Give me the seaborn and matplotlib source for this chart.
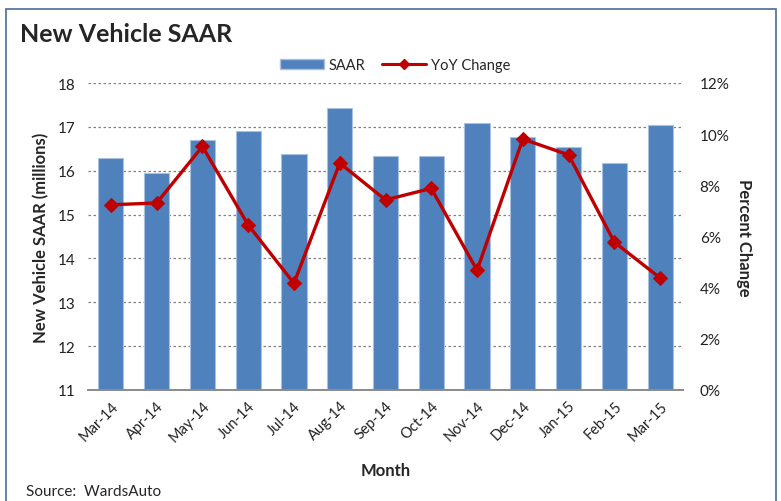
import numpy as np
import pandas as pd
import seaborn as sns
import matplotlib.pyplot as plt
from matplotlib.lines import Line2D
from matplotlib.patches import Patch, Rectangle
from matplotlib.ticker import PercentFormatter, MultipleLocator

months = ["Mar-14", "Apr-14", "May-14", "Jun-14", "Jul-14", "Aug-14", "Sep-14",
          "Oct-14", "Nov-14", "Dec-14", "Jan-15", "Feb-15", "Mar-15"]
saar = [16.30, 15.94, 16.69, 16.91, 16.39, 17.44, 16.34,
        16.34, 17.09, 16.78, 16.55, 16.17, 17.05]
yoy = [7.24, 7.31, 9.52, 6.45, 4.17, 8.87, 7.43,
       7.88, 4.68, 9.81, 9.19, 5.78, 4.38]

df = pd.DataFrame({"Month": months, "SAAR": saar, "YoY": yoy})

sns.set_theme(style="white")
plt.rcParams["font.family"] = ["Lato", "DejaVu Sans"]

bar_color = "#4F81BD"
line_color = "#C00000"

fig = plt.figure(figsize=(7.81, 5.02), dpi=100)
ax = fig.add_axes([88 / 781, 1 - 391 / 502, (683 - 88) / 781, (391 - 84) / 502])

sns.barplot(data=df, x="Month", y="SAAR", color=bar_color, width=0.55,
            saturation=1, edgecolor="#A9C0E0", linewidth=0.8, ax=ax, zorder=2)
ax.set_ylim(11, 18)
ax.set_xlim(-0.5, len(months) - 0.5)
ax.yaxis.set_major_locator(MultipleLocator(1))

ax2 = ax.twinx()
pos = np.arange(len(months))
sns.lineplot(x=pos, y=df["YoY"], color=line_color, linewidth=2.4, marker="D",
             markersize=7, markeredgecolor=line_color, ax=ax2, zorder=3)
ax2.set_ylim(0, 12)
ax2.yaxis.set_major_locator(MultipleLocator(2))
ax2.yaxis.set_major_formatter(PercentFormatter(decimals=0))

for a in (ax, ax2):
    for s in ("top", "left", "right"):
        a.spines[s].set_visible(False)
    a.spines["bottom"].set_color("#8c8c8c")
    a.tick_params(axis="y", length=0, labelsize=11, colors="#222222")

ax.set_xticks(pos)
ax.set_xticklabels(months, rotation=45, ha="right", rotation_mode="anchor",
                   fontsize=10.5, color="#222222")
ax.tick_params(axis="x", length=0, pad=6)
# boundary ticks like the original
ax.set_xticks(np.arange(-0.5, len(months)), minor=True)
ax.tick_params(axis="x", which="minor", length=5, color="#8c8c8c", width=1)
ax.tick_params(axis="y", pad=9)
ax2.tick_params(axis="y", pad=12)

ax.set_xlabel("Month", fontsize=12, fontweight="bold", labelpad=13)
ax.set_ylabel("New Vehicle SAAR (millions)", fontsize=12, fontweight="bold", labelpad=6)
ax2.set_ylabel("Percent Change", fontsize=12, fontweight="bold", rotation=-90, labelpad=16)

# dotted horizontal gridlines at the left-axis ticks
ax.yaxis.grid(True, which="major", color="#808080", linestyle=(0, (2, 2)), linewidth=0.9)
ax.xaxis.grid(False)
ax.set_axisbelow(True)

handles = [Patch(facecolor=bar_color, edgecolor="#A9C0E0"),
           Line2D([0], [0], color=line_color, linewidth=2.2, marker="D", markersize=5)]
fig.legend(handles, ["SAAR", "YoY Change"], loc="center", bbox_to_anchor=(395 / 781, 1 - 66 / 502),
           ncol=2, frameon=False, fontsize=10.5, handlelength=3, columnspacing=1.2,
           handletextpad=0.3)

fig.text(20 / 781, 1 - 35 / 502, "New Vehicle SAAR", fontsize=18, fontweight="bold",
         va="center", ha="left")
fig.text(26 / 781, 1 - 492 / 502, "Source:  WardsAuto", fontsize=11, va="center", ha="left")

fig.patches.append(Rectangle((6 / 781, -0.05), 770 / 781, 1.05 - 10 / 502, transform=fig.transFigure,
                             fill=False, edgecolor="#4a6a99", linewidth=1.2))

fig.savefig("out.png", dpi=100)
